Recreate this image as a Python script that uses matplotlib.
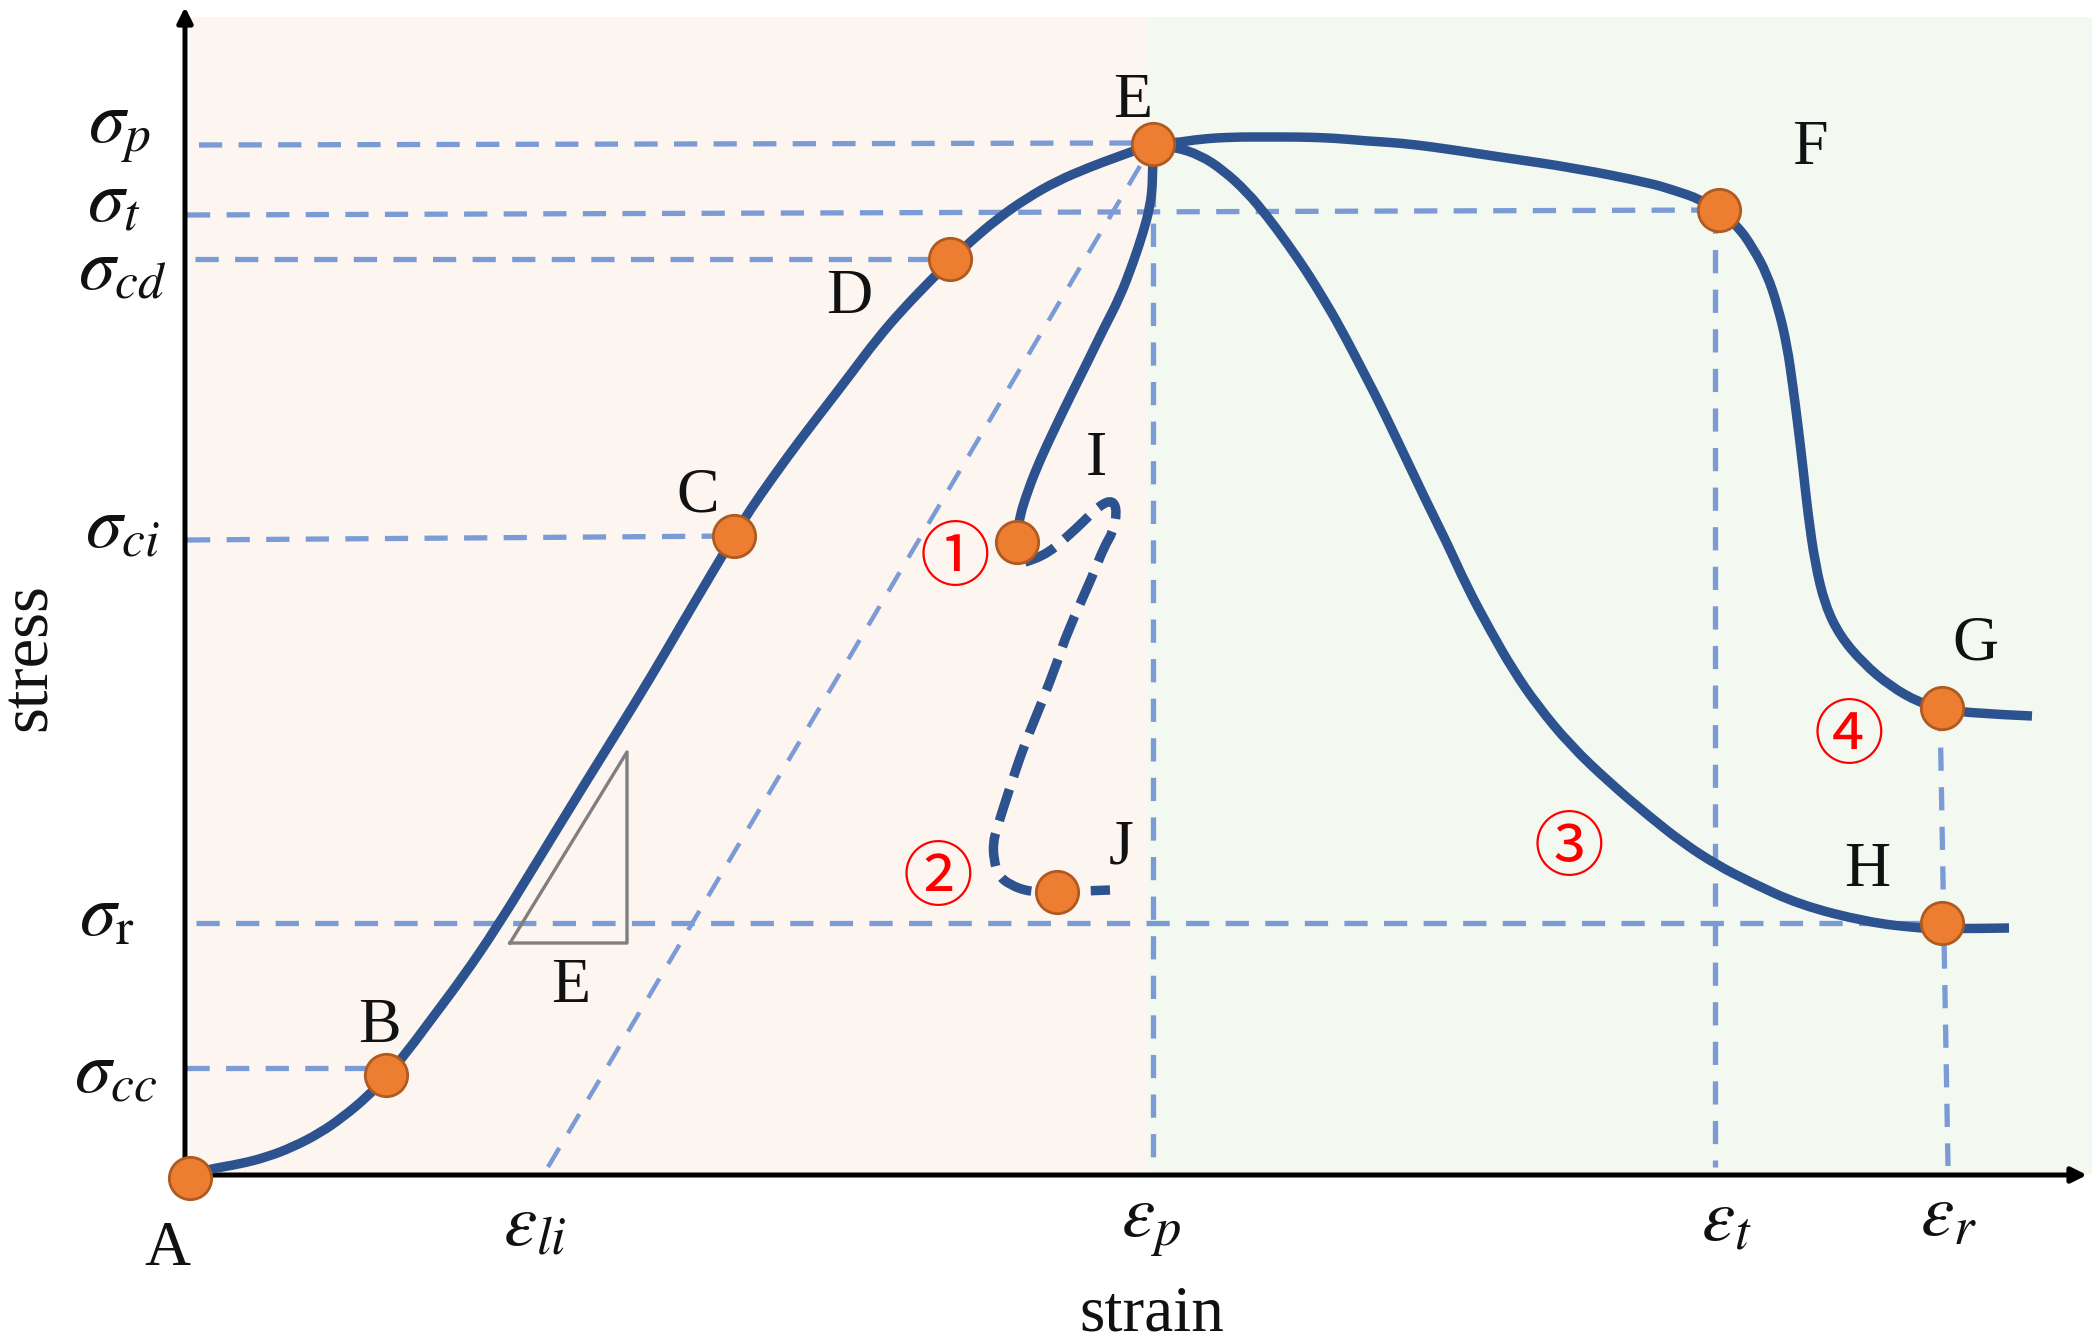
import matplotlib
matplotlib.use("Agg")
import matplotlib.pyplot as plt
from matplotlib.path import Path
from matplotlib.patches import PathPatch

plt.rcParams['mathtext.fontset'] = 'stix'

# curves (strain, stress in plot units)
load_strain = [0, 24, 54, 81, 107, 134, 157, 181, 200, 221, 247, 277, 311, 354, 398, 451, 479, 504, 548,
               564, 587, 614, 641, 664, 691, 717, 744, 764, 784, 811, 841, 871, 904, 931, 967]
load_stress = [0, 6, 11, 18, 28, 42, 58, 78, 98, 123, 158, 198, 248, 318, 390, 475, 522, 565, 639,
               665, 698, 735, 770, 800, 836, 866, 894, 914, 933, 956, 977, 994, 1008, 1018, 1031]
ef_strain = [967, 989, 1014, 1047, 1081, 1114, 1147, 1181, 1214, 1247, 1281, 1314, 1389, 1464, 1487, 1514, 1533]
ef_stress = [1031, 1032, 1036, 1038, 1038, 1038, 1037, 1034, 1032, 1028, 1023, 1018, 1007, 992, 985, 976, 965]
fg_strain = [1533, 1551, 1567, 1581, 1592, 1601, 1607, 1612, 1617, 1622, 1629, 1639, 1654, 1677, 1704, 1734, 1756, 1779, 1846]
fg_stress = [965, 950, 927, 901, 868, 830, 788, 749, 707, 661, 612, 570, 539, 512, 489, 472, 467, 462, 459]
eh_strain = [967, 989, 1014, 1037, 1061, 1081, 1101, 1121, 1137, 1154, 1179, 1197, 1241, 1261, 1281, 1304, 1327, 1351,
             1384, 1424, 1464, 1497, 1531, 1564, 1614, 1681, 1731, 1756, 1823]
eh_stress = [1031, 1028, 1020, 1005, 983, 959, 932, 903, 877, 848, 800, 765, 672, 632, 588, 545, 505, 470,
             430, 392, 358, 332, 310, 293, 270, 253, 247, 246, 247]
ei_strain = [967, 967, 964, 957, 947, 934, 917, 901, 884, 869, 854, 842, 832, 831]
ei_stress = [1031, 995, 968, 942, 912, 878, 845, 812, 778, 747, 715, 685, 653, 633]
ij_strain = [839, 857, 881, 897, 914, 927, 931, 927, 918, 907, 881, 872, 856, 839, 824, 811, 807, 808, 812, 824, 844, 871, 897, 924]
ij_stress = [613, 618, 638, 653, 670, 675, 663, 643, 628, 600, 542, 515, 473, 432, 388, 347, 332, 315, 300, 290, 283, 283, 284, 285]

# marked points A to J
pt_strain = [4, 200, 548, 764, 967, 1533, 1756, 1756, 831, 871]
pt_stress = [-3, 100, 639, 916, 1031, 965, 467, 252, 633, 283]

# guide lines
sigma_x0 = [13, 1, 9, 1, 10, 0]
sigma_x1 = [950, 1533, 764, 548, 1756, 200]
sigma_y0 = [1030, 960, 916, 635, 252, 107]
sigma_y1 = [1032, 965, 916, 639, 252, 107]
eps_x0 = [967, 1529, 1754]
eps_x1 = [967, 1529, 1762]
eps_y0 = [1031, 965, 467]
eps_y1 = [8, 8, 9]
li_strain = [362, 967]
li_stress = [8, 1031]

tri_strain = [324, 441, 441, 324]
tri_stress = [232, 232, 423, 232]


def curve_patch(xs, ys, **kw):
    # the read points become quadratic control points, so the line stays smooth
    verts = [(xs[0], ys[0])]
    codes = [Path.MOVETO]
    for i in range(1, len(xs) - 1):
        verts.append((xs[i], ys[i]))
        codes.append(Path.CURVE3)
        if i < len(xs) - 2:
            verts.append(((xs[i] + xs[i + 1]) / 2, (ys[i] + ys[i + 1]) / 2))
        else:
            verts.append((xs[i + 1], ys[i + 1]))
        codes.append(Path.CURVE3)
    return PathPatch(Path(verts, codes), fill=False, **kw)


fig = plt.figure(figsize=(20.98, 13.43), dpi=100)
ax = fig.add_axes([0, 0, 1, 1])
ax.set_xlim(-186, 1912)
ax.set_ylim(-168, 1175)
ax.axis('off')

ax.fill_between([3, 962], 0, 1158, color='#FDF5EF', lw=0, zorder=0)
ax.fill_between([962, 1906], 0, 1158, color='#F3F8F0', lw=0, zorder=0)

# dashes
blue = '#7B9BD6'
for i in range(len(sigma_x0)):
    ax.plot([sigma_x0[i], sigma_x1[i]], [sigma_y0[i], sigma_y1[i]], color=blue, lw=3.8,
            linestyle=(0, (4.4, 3.1)), zorder=1)
for i in range(len(eps_x0)):
    ax.plot([eps_x0[i], eps_x1[i]], [eps_y0[i], eps_y1[i]], color=blue, lw=3.8,
            linestyle=(0, (4.4, 3.1)), zorder=1)
ax.plot(li_strain, li_stress, color=blue, lw=3.2, linestyle=(0, (5, 3.85)), zorder=1)

ax.plot(tri_strain, tri_stress, color='#7F7F7F', lw=2.4, zorder=1)

# curves
navy = '#2C528F'
for xs, ys in [(load_strain, load_stress), (ef_strain, ef_stress), (fg_strain, fg_stress),
               (eh_strain, eh_stress), (ei_strain, ei_stress)]:
    ax.add_patch(curve_patch(xs, ys, edgecolor=navy, lw=6.8, capstyle='butt', joinstyle='round', zorder=3))
ax.add_patch(curve_patch(ij_strain, ij_stress, edgecolor=navy, lw=6.8, linestyle=(0, (3.5, 1.4)),
                         capstyle='butt', joinstyle='round', zorder=3))

# axes arrows
ax.annotate('', xy=(1901, 0), xytext=(-1, 0), zorder=2,
            arrowprops=dict(arrowstyle='-|>,head_length=0.9,head_width=0.45', color='black', lw=3.6,
                            shrinkA=0, shrinkB=0))
ax.annotate('', xy=(-1, 1168), xytext=(-1, 0), zorder=2,
            arrowprops=dict(arrowstyle='-|>,head_length=0.9,head_width=0.45', color='black', lw=3.6,
                            shrinkA=0, shrinkB=0))

ax.plot(pt_strain, pt_stress, 'o', ms=30.5, mfc='#ED7D31', mec='#AE5A21', mew=2, zorder=5)

# text
pt_labels = ['A', 'B', 'C', 'D', 'E', 'F', 'G', 'H', 'I', 'J', 'E']
lab_x = [-19, 193, 512, 663, 947, 1624, 1789, 1681, 910, 935, 385]
lab_y = [-75, 148, 678, 877, 1073, 1026, 530, 304, 715, 327, 188]
for s, x, y in zip(pt_labels, lab_x, lab_y):
    ax.text(x, y, s, family='Liberation Serif', fontsize=46, ha='center', va='center', color='#111111', zorder=6)

sig_labels = [r'$\sigma_p$', r'$\sigma_t$', r'$\sigma_{cd}$', r'$\sigma_{ci}$', r'$\sigma_{\mathrm{r}}$', r'$\sigma_{cc}$']
sig_x = [-67, -72, -64, -63, -79, -70]
sig_y = [1045, 974, 906, 648, 260, 103]
for s, x, y in zip(sig_labels, sig_x, sig_y):
    ax.text(x, y, s, fontsize=53, ha='center', va='center', color='#111111')

eps_labels = [r'$\varepsilon_{li}$', r'$\varepsilon_p$', r'$\varepsilon_t$', r'$\varepsilon_r$']
eps_x = [349, 965, 1540, 1762]
eps_y = [-50, -48, -45, -40]
for s, x, y in zip(eps_labels, eps_x, eps_y):
    ax.text(x, y, s, fontsize=54, ha='center', va='center', color='#111111')

ax.text(-157, 518, 'stress', family='Liberation Serif', fontsize=48, rotation=90, ha='center', va='center', color='#111111')
ax.text(966, -140, 'strain', family='Liberation Serif', fontsize=47, ha='center', va='center', color='#111111')

circ_labels = ['①', '②', '③', '④']
circ_x = [769, 752, 1383, 1663]
circ_y = [616, 296, 325, 437]
for s, x, y in zip(circ_labels, circ_x, circ_y):
    ax.text(x, y, s, family='Noto Sans CJK SC', fontsize=51, color='#FF0000', ha='center', va='center', zorder=6)

fig.savefig('out.png', dpi=100)
